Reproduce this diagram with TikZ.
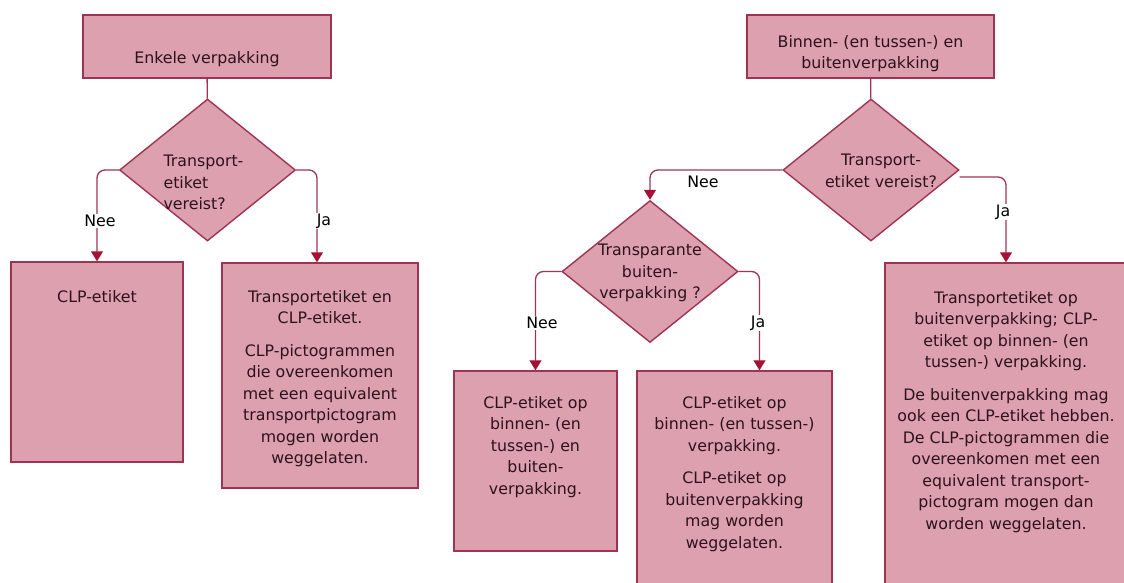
\documentclass[tikz,border=0pt]{standalone}
\usepackage{fontspec}
\setmainfont{DejaVu Sans}
\usetikzlibrary{arrows.meta,shapes.geometric}

\definecolor{vakroze}{RGB}{221,160,174}
\definecolor{vakrand}{RGB}{158,52,84}
\definecolor{pijlrood}{RGB}{165,18,55}
\definecolor{tekstkleur}{RGB}{45,18,28}

\newcommand{\vaktekst}[4]{\parbox[c][#2pt][t]{#1pt}{\centering\vspace*{#3pt}\strut#4}}
\newcommand{\ruittekst}[3]{\smash{\raisebox{#1pt}{\begin{tabular}{@{}#2@{}}#3\end{tabular}}}}

\tikzset{
	vak/.style={draw=vakrand, fill=vakroze, line width=1.4pt, inner sep=0pt, text=tekstkleur, font=\fontsize{15.8}{21.5}\selectfont},
	ruit/.style={diamond, draw=vakrand, fill=vakroze, line width=1.4pt, inner sep=0pt, minimum width=176pt, minimum height=142pt, text=tekstkleur, font=\fontsize{15.8}{21.5}\selectfont},
	lijn/.style={draw=vakrand, line width=1.3pt},
	pijl/.style={draw=vakrand, line width=1.3pt, rounded corners=8pt, -{Triangle[width=12pt,length=10pt,color=pijlrood]}},
	keuze/.style={fill=white, inner sep=1pt, text=black, font=\fontsize{15.8}{18}\selectfont}
}

\begin{document}
\begin{tikzpicture}[x=1pt, y=-1pt]
		%%%%% START %%%%%
		\useasboundingbox (0, 0) rectangle (1124, 582);
		\clip (0, 0) rectangle (1124, 582);
		
		% enkele verpakking
		\node[vak] (enkel) at (207, 46.5) {\vaktekst{248}{63}{33}{Enkele verpakking}};
		\node[ruit] (vraag1) at (207.5, 170) {\ruittekst{-17.5}{l}{Transport-\\etiket\\vereist?}\hspace*{8pt}};
		\node[vak] (clp) at (97, 362) {\vaktekst{172}{200}{25}{CLP-etiket}};
		\node[vak] (transclp) at (320, 375.5) {\vaktekst{196}{225}{24}{Transportetiket en\\CLP-etiket.\\[11pt]CLP-pictogrammen\\die overeenkomen\\met een equivalent\\transportpictogram\\mogen worden\\weggelaten.}};
		
		% binnen- en buitenverpakking
		\node[vak] (binnen) at (870.5, 46.5) {\vaktekst{247}{63}{17}{Binnen- (en tussen-) en\\buitenverpakking}};
		\node[ruit] (vraag2) at (871, 170) {\hspace*{20pt}\ruittekst{-6}{c}{Transport-\\etiket vereist?}};
		\node[ruit] (vraag3) at (650, 271.5) {\ruittekst{-5}{c}{Transparante\\buiten-\\verpakking ?}};
		\node[vak] (neeB) at (535.5, 461) {\vaktekst{163}{180}{22}{CLP-etiket op\\binnen- (en\\tussen-) en\\buiten-\\verpakking.}};
		\node[vak] (jaB) at (734.5, 481) {\vaktekst{195}{220}{22}{CLP-etiket op\\binnen- (en tussen-)\\verpakking.\\[11pt]CLP-etiket op\\buitenverpakking\\mag worden\\weggelaten.}};
		\node[vak] (rechts) at (1006, 427) {\vaktekst{242}{328}{25}{Transportetiket op\\buitenverpakking; CLP-\\etiket op binnen- (en\\tussen-) verpakking.\\[11pt]De buitenverpakking mag\\ook een CLP-etiket hebben.\\De CLP-pictogrammen die\\overeenkomen met een\\equivalent transport-\\pictogram mogen dan\\worden weggelaten.}};
		
		% verbindingen
		\draw[lijn] (enkel) -- (vraag1);
		\draw[pijl] (vraag1.west) -| (clp.north);
		\draw[pijl] (vraag1.east) -| ([xshift=-3pt]transclp.north);
		
		\draw[lijn] (binnen) -- (vraag2);
		\draw[pijl] (vraag2.west) -| (vraag3.north);
		\draw[pijl] ([yshift=-7pt]vraag2.east) -| (rechts.north);
		\draw[pijl] (vraag3.west) -| (neeB.north);
		\draw[pijl] (vraag3.east) -| ([xshift=25pt]jaB.north);
		
		% nee / ja
		\node[keuze] (nee1) at (100, 221) {Nee};
		\node[keuze] (ja1) at (324, 221) {Ja};
		\node[keuze] (nee2) at (703, 182) {Nee};
		\node[keuze] (ja2) at (1003, 212) {Ja};
		\node[keuze] (nee3) at (542, 323) {Nee};
		\node[keuze] (ja3) at (758, 323) {Ja};
		
		%%%%% END %%%%%
	\end{tikzpicture}
\end{document}
